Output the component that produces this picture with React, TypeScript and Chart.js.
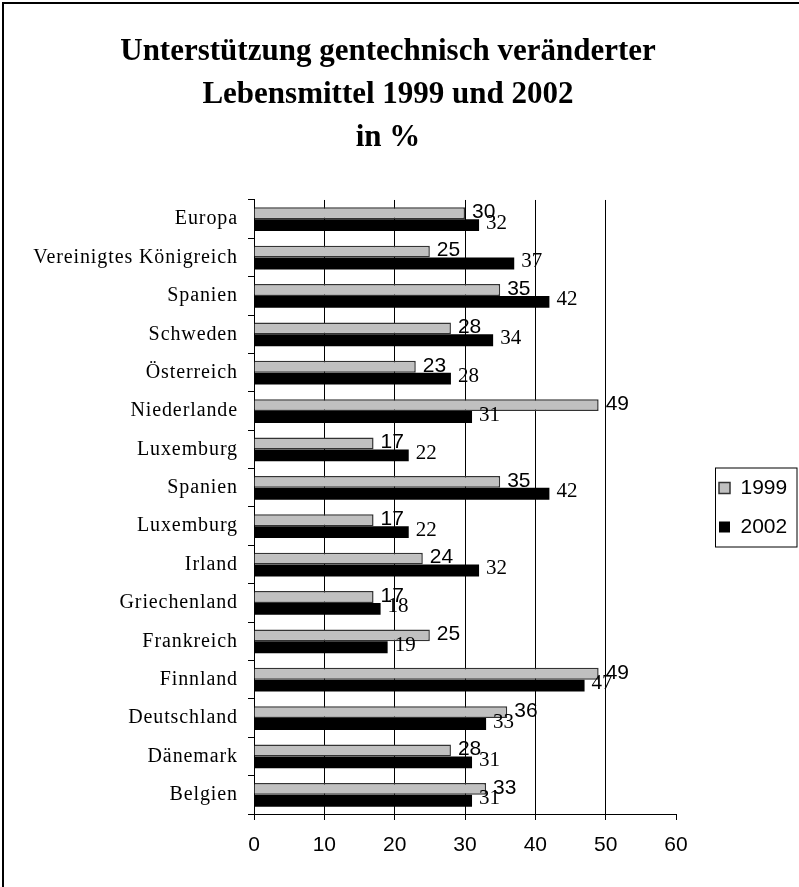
import React, { useEffect, useRef } from 'react';
import { Chart, registerables } from 'chart.js';

Chart.register(...registerables);

const categories = [
  'Europa',
  'Vereinigtes Königreich',
  'Spanien',
  'Schweden',
  'Österreich',
  'Niederlande',
  'Luxemburg',
  'Spanien',
  'Luxemburg',
  'Irland',
  'Griechenland',
  'Frankreich',
  'Finnland',
  'Deutschland',
  'Dänemark',
  'Belgien',
];
const values1999 = [30, 25, 35, 28, 23, 49, 17, 35, 17, 24, 17, 25, 49, 36, 28, 33];
const values2002 = [32, 37, 42, 34, 28, 31, 22, 42, 22, 32, 18, 19, 47, 33, 31, 31];
const seriesNames = ['1999', '2002'];
const titleLines = ['Unterstützung gentechnisch veränderter', 'Lebensmittel 1999 und 2002', 'in %'];
const xTickValues = [0, 10, 20, 30, 40, 50, 60];

const SERIF = '"Liberation Serif", "Times New Roman", serif';
const SANS = '"Liberation Sans", Arial, sans-serif';

const framePlugin = {
  id: 'frame',
  beforeDraw(chart: any) {
    const ctx = chart.ctx;
    ctx.save();
    ctx.fillStyle = '#000';
    ctx.fillRect(2, 2, chart.width - 2, 2);
    ctx.fillRect(2, 2, 2, chart.height - 2);
    ctx.restore();
  },
};

const legendPlacePlugin = {
  id: 'legendPlace',
  afterLayout(chart: any) {
    const lg = chart.legend;
    if (!lg) return;
    lg.left = 701;
    lg.right = 799;
    lg.top = 459.5;
    lg.bottom = 640;
  },
};

const dataLabelPlugin = {
  id: 'dataLabels',
  afterDatasetsDraw(chart: any) {
    const ctx = chart.ctx;
    const fonts = ['21px ' + SANS, '21px ' + SERIF];
    const dy = [-1, -2];
    ctx.save();
    ctx.fillStyle = '#000';
    ctx.textAlign = 'left';
    ctx.textBaseline = 'middle';
    chart.data.datasets.forEach((ds: any, i: number) => {
      const meta = chart.getDatasetMeta(i);
      ctx.font = fonts[i];
      meta.data.forEach((el: any, j: number) => {
        ctx.fillText(String(ds.data[j]), el.x + 7, el.y + dy[i]);
      });
    });
    ctx.restore();
    // y-axis category labels (drawn next, z=1) are slightly letter-spaced in the original
    (ctx as any).letterSpacing = '0.9px';
  },
  afterDraw(chart: any) {
    const ctx = chart.ctx;
    (ctx as any).letterSpacing = '0px';
    const lg = chart.legend;
    if (!lg) return;
    ctx.save();
    ctx.strokeStyle = '#000';
    ctx.lineWidth = 1;
    ctx.strokeRect(lg.left + 14.5, lg.top + 8.5, 797 - (lg.left + 14.5), 79);
    ctx.restore();
  },
};

export default function App() {
  const ref = useRef<HTMLCanvasElement | null>(null);

  useEffect(() => {
    if (!ref.current) return;
    const chart = new Chart(ref.current, {
      type: 'bar',
      data: {
        labels: categories,
        datasets: [
          {
            label: seriesNames[0],
            data: values1999,
            backgroundColor: '#c0c0c0',
            borderColor: '#333333',
            borderWidth: 1.5,
            categoryPercentage: 0.62,
            barPercentage: 1,
          },
          {
            label: seriesNames[1],
            data: values2002,
            backgroundColor: '#000000',
            borderColor: '#000000',
            borderWidth: 0,
            categoryPercentage: 0.62,
            barPercentage: 1,
          },
        ],
      },
      options: {
        indexAxis: 'y',
        responsive: false,
        maintainAspectRatio: false,
        animation: false,
        layout: { padding: { left: 10, right: 33, top: 0, bottom: 0 } },
        plugins: {
          tooltip: { enabled: false },
          title: {
            display: true,
            text: titleLines,
            color: '#000',
            font: { family: SERIF, size: 31, weight: 'bold', lineHeight: 1.39 },
            padding: { top: 30.5, bottom: 40.2 },
          },
          legend: {
            position: 'right',
            align: 'start',
            maxWidth: 90,
            labels: {
              boxWidth: 11,
              boxHeight: 11,
              padding: 18,
              color: '#000',
              font: { family: SANS, size: 21 },
            },
          },
        },
        scales: {
          x: {
            type: 'linear',
            position: 'bottom',
            min: 0,
            max: 60,
            afterFit: (s: any) => {
              s.height = 73;
            },
            afterBuildTicks: (s: any) => {
              s.ticks = xTickValues.map((v) => ({ value: v }));
            },
            ticks: {
              color: '#000',
              padding: 13,
              font: { family: SANS, size: 21 },
            },
            grid: {
              color: (c: any) => (c.tick && c.tick.value === 60 ? 'rgba(0,0,0,0)' : '#000'),
              tickColor: '#000',
              tickLength: 6,
              lineWidth: 1,
            },
            border: { color: '#000', width: 1 },
          },
          y: {
            type: 'category',
            offset: true,
            afterFit: (s: any) => {
              s.width = 244;
            },
            ticks: {
              color: '#000',
              padding: 10,
              z: 1,
              autoSkip: false,
              font: { family: SERIF, size: 20 },
            },
            grid: {
              offset: true,
              drawOnChartArea: false,
              color: '#000',
              tickColor: '#000',
              tickLength: 6,
            },
            border: { color: '#000', width: 1 },
          },
        },
      },
      plugins: [framePlugin, legendPlacePlugin, dataLabelPlugin],
    } as any);
    return () => chart.destroy();
  }, []);

  return (
    <div style={{ position: 'fixed', left: 0, top: 0, width: 799, height: 887, background: '#fff' }}>
      <canvas ref={ref} width={799} height={887} />
    </div>
  );
}
